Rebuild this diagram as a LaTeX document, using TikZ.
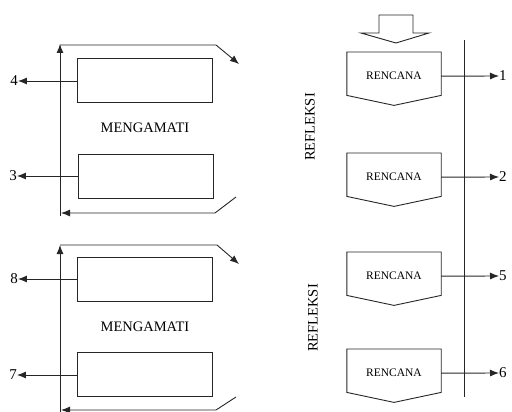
\documentclass[tikz,border=0pt]{standalone}
\usepackage{fontspec}
\setmainfont{Liberation Serif}
\usetikzlibrary{arrows.meta}
\begin{document}
\begin{tikzpicture}[x=1pt,y=-1pt,
  line/.style={draw=black!85,line width=0.9pt},
  arr/.style={line,-{Latex[length=9pt,width=7pt]}},
  box/.style={line,rectangle,minimum width=135pt,minimum height=44pt,inner sep=0pt},
  plan/.style={rectangle,minimum width=94pt,minimum height=43pt,inner sep=0pt,font=\fontsize{11.5}{12}\selectfont},
  num/.style={font=\fontsize{15}{15}\selectfont,inner sep=0pt},
  lbl/.style={font=\fontsize{14.5}{15}\selectfont,inner sep=0pt}]
\useasboundingbox (0,0) rectangle (512,412);

% ---------- left upper group ----------
\node[box] (b4) at (145,80.5) {};
\node[box] (b3) at (145.5,176.5) {};
\node[lbl] (m1) at (145,128) {MENGAMATI};
\node[num] (n4) at (14,81) {4};
\node[num] (n3) at (13,176) {3};
\draw[arr] (b4.west |- 0,81) -- (n4.east);
\draw[arr] (b3.west |- 0,176) -- (n3.east);
\coordinate (a1) at (60,216);
\coordinate (a2) at (60,44);
\coordinate (a3) at (216,45);
\coordinate (a4) at (239,64);
\coordinate (a5) at (236,197);
\coordinate (a6) at (215,213);
\coordinate (a7) at (61,213);
\draw[arr] (a1) -- (a2);
\draw[arr] (60,45) -- (a3) -- (a4);
\draw[arr] (a5) -- (a6) -- (a7);

% ---------- left lower group ----------
\node[box] (b8) at (144.5,279) {};
\node[box] (b7) at (144.5,374.5) {};
\node[lbl] (m2) at (145,327) {MENGAMATI};
\node[num] (n8) at (14,279) {8};
\node[num] (n7) at (13,375) {7};
\draw[arr] (b8.west |- 0,279) -- (n8.east);
\draw[arr] (b7.west |- 0,375) -- (n7.east);
\coordinate (c1) at (60,414);
\coordinate (c2) at (60,245);
\coordinate (c3) at (217,245);
\coordinate (c4) at (239,264);
\coordinate (c5) at (236,397);
\coordinate (c6) at (216,410);
\coordinate (c7) at (61,410);
\draw[arr] (c1) -- (c2);
\draw[arr] (60,245) -- (c3) -- (c4);
\draw[arr] (c5) -- (c6) -- (c7);

% ---------- right side ----------
\draw[line] (379,15) -- (413,15) -- (413,33) -- (429,33) -- (396,43)
  -- (361,33) -- (379,33) -- cycle;
\coordinate (vt) at (464,40);
\coordinate (vb) at (464,397);
\draw[line] (vt) -- (vb);

\foreach \nm/\y/\lab in {r1/52/1, r2/153/2, r5/252/5, r6/349/6}{
  \node[plan,anchor=north] (\nm) at (394,\y) {};
  \node[plan,anchor=center,minimum height=0pt] (\nm t) at ([yshift=-2.5pt]\nm.center) {RENCANA};
  \draw[line] (\nm.north west) -- (\nm.north east) -- (\nm.south east)
     -- ([yshift=-10pt]\nm.south) -- (\nm.south west) -- cycle;
  \node[num,anchor=west] (n\lab) at (499,\y+24) {\lab};
  \draw[arr] (\nm.east |- \nm t) -- (n\lab.west);
}

\node[lbl,rotate=90] (rf1) at (310,127) {REFLEKSI};
\node[lbl,rotate=90] (rf2) at (313,318) {REFLEKSI};
\end{tikzpicture}
\end{document}
